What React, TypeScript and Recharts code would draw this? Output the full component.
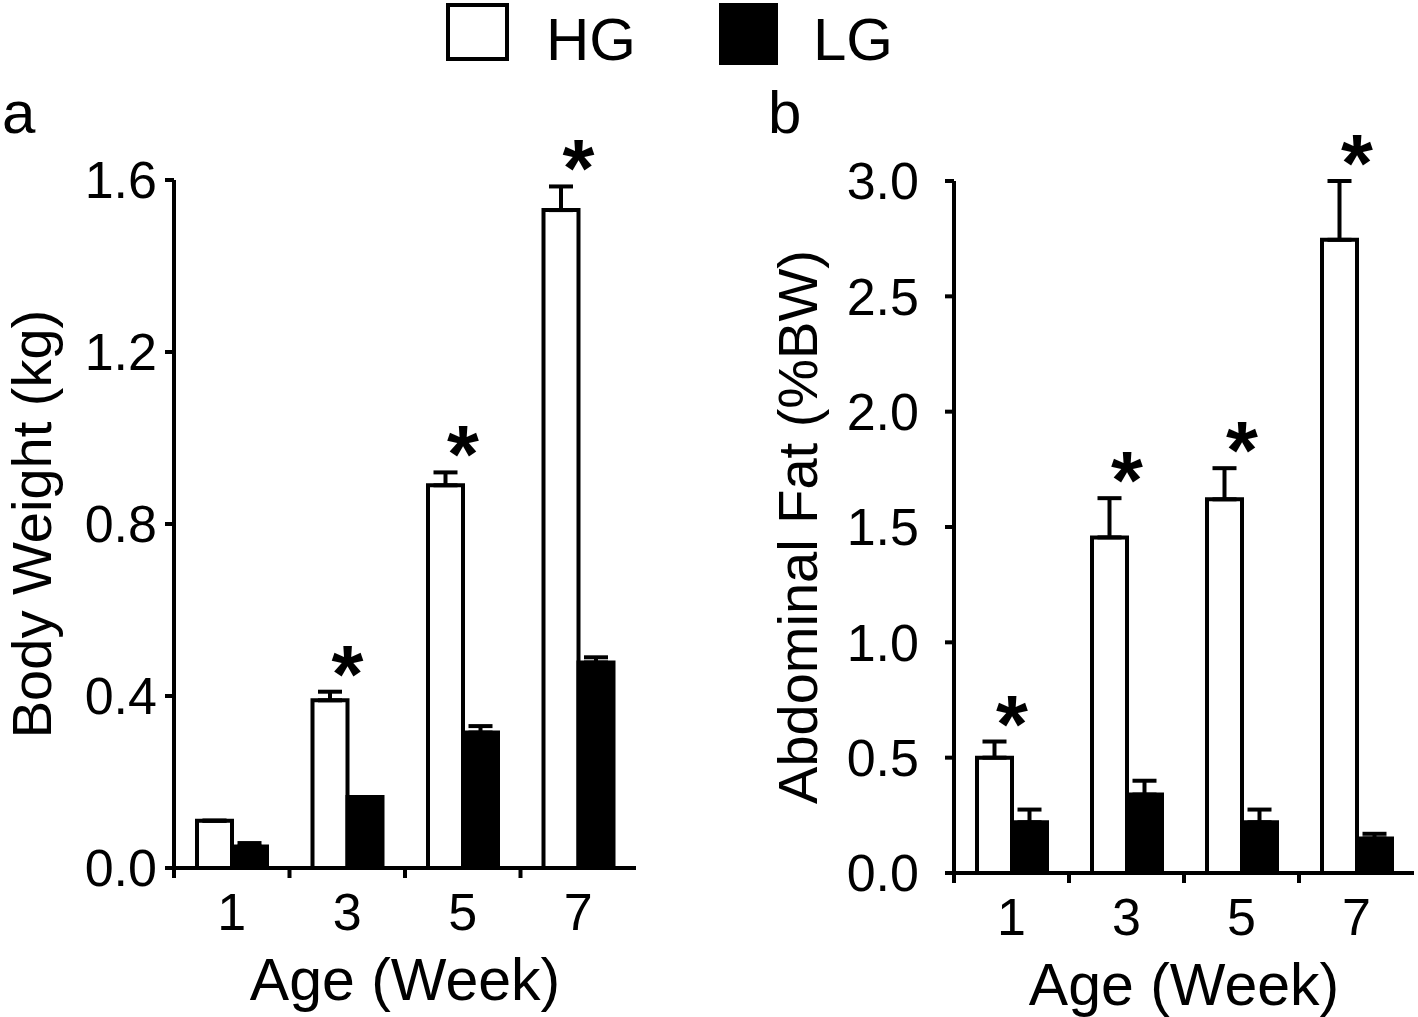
import React from 'react'
import { BarChart, Bar, XAxis, YAxis, ErrorBar, LabelList } from 'recharts'

const FONT = '"Liberation Sans", Arial, sans-serif'

const weeks = ['1', '3', '5', '7']

// panel a: body weight (kg)
const bwHG = [0.11, 0.39, 0.89, 1.53]
const bwHGErr = [0, 0.02, 0.03, 0.055]
const bwLG = [0.05, 0.165, 0.315, 0.478]
const bwLGErr = [0.008, 0, 0.015, 0.012]
const bwSig = [false, true, true, true]
const bwTicks = [0, 0.4, 0.8, 1.2, 1.6]

// panel b: abdominal fat (%BW)
const fatHG = [0.5, 1.455, 1.62, 2.745]
const fatHGErr = [0.07, 0.17, 0.135, 0.255]
const fatLG = [0.22, 0.34, 0.22, 0.15]
const fatLGErr = [0.055, 0.06, 0.055, 0.02]
const fatSig = [true, true, true, true]
const fatTicks = [0, 0.5, 1.0, 1.5, 2.0, 2.5, 3.0]

const makeRows = (hg: number[], hgErr: number[], lg: number[], lgErr: number[], sig: boolean[]) =>
  weeks.map((w, i) => ({
    week: w,
    hg: hg[i],
    hgErr: [0, hgErr[i]],
    lg: lg[i],
    lgErr: [0, lgErr[i]],
    // how far above the bar top the error bar reaches, as a share of the bar height
    star: sig[i] ? hgErr[i] / hg[i] : null,
  }))

const bwRows = makeRows(bwHG, bwHGErr, bwLG, bwLGErr, bwSig)
const fatRows = makeRows(fatHG, fatHGErr, fatLG, fatLGErr, fatSig)

const Star = (props: any) => {
  const { value } = props
  if (value === null || value === undefined || value === '') return null
  const vb = props.viewBox || props
  const top = vb.y - vb.height * Number(value)
  return (
    <text x={vb.x + vb.width} y={top + 10} textAnchor="middle" fontFamily={FONT} fontWeight="bold" fontSize={82} fill="#000">
      *
    </text>
  )
}

const WeekTick = (props: any) => {
  const { x, y, payload } = props
  const half = payload && payload.offset ? payload.offset : 57.5
  const base = y - 18
  return (
    <g>
      <line x1={x - half} x2={x - half} y1={base} y2={base + 10} stroke="#000" strokeWidth={4} />
      <text x={x} y={y + 44} textAnchor="middle" fontFamily={FONT} fontSize={52} fill="#000">
        {payload.value}
      </text>
    </g>
  )
}

const yTitle = (text: string, cx: number) => (p: any) => {
  const vb = p.viewBox || { y: 180, height: 690 }
  const cy = vb.y + vb.height / 2
  return (
    <text x={cx} y={cy} transform={`rotate(-90, ${cx}, ${cy})`} textAnchor="middle" dominantBaseline="central" fontFamily={FONT} fontSize={56} fill="#000">
      {text}
    </text>
  )
}

const xTitle = (p: any) => {
  const vb = p.viewBox || { x: 174, y: 868, width: 460 }
  return (
    <text x={vb.x + vb.width / 2} y={vb.y + 132} textAnchor="middle" fontFamily={FONT} fontSize={59} fill="#000">
      Age (Week)
    </text>
  )
}

interface PanelProps {
  rows: any[]
  ticks: number[]
  domain: [number, number]
  width: number
  margin: { top: number; right: number; bottom: number; left: number }
  tickMargin: number
  title: string
  titleX: number
}

function Panel({ rows, ticks, domain, width, margin, tickMargin, title, titleX }: PanelProps) {
  const axisStyle = { stroke: '#000', strokeWidth: 4 }
  return (
    <BarChart width={width} height={1017} data={rows} margin={margin} barSize={35} barGap={0}>
      <XAxis
        dataKey="week"
        height={100}
        axisLine={axisStyle}
        tickLine={false}
        tickSize={10}
        tickMargin={8}
        interval={0}
        tick={<WeekTick />}
        label={{ value: 'Age (Week)', content: xTitle }}
      />
      <YAxis
        type="number"
        domain={domain}
        ticks={ticks}
        interval={0}
        width={100}
        tickFormatter={(v: number) => v.toFixed(1)}
        tickSize={9}
        tickMargin={tickMargin}
        axisLine={axisStyle}
        tickLine={axisStyle}
        tick={{ fill: '#000', fontSize: 52, fontFamily: FONT }}
        label={{ value: title, content: yTitle(title, titleX) }}
      />
      <Bar dataKey="hg" fill="#fff" stroke="#000" strokeWidth={4} isAnimationActive={false}>
        <ErrorBar dataKey="hgErr" width={12} stroke="#000" strokeWidth={4} direction="y" />
        <LabelList dataKey="star" content={<Star />} />
      </Bar>
      <Bar dataKey="lg" fill="#000" stroke="#000" strokeWidth={4} isAnimationActive={false}>
        <ErrorBar dataKey="lgErr" width={12} stroke="#000" strokeWidth={4} direction="y" />
      </Bar>
    </BarChart>
  )
}

export default function App() {
  return (
    <div style={{ position: 'absolute', left: 0, top: 0, width: 1418, height: 1017, background: '#fff' }}>
      <div style={{ position: 'absolute', left: 0, top: 0 }}>
        <Panel
          rows={bwRows}
          ticks={bwTicks}
          domain={[0, 1.6]}
          width={700}
          margin={{ top: 180, right: 64, bottom: 49, left: 74 }}
          tickMargin={8}
          title="Body Weight (kg)"
          titleX={31}
        />
      </div>
      <div style={{ position: 'absolute', left: 700, top: 0 }}>
        <Panel
          rows={fatRows}
          ticks={fatTicks}
          domain={[0, 3]}
          width={718}
          margin={{ top: 181, right: 4, bottom: 44, left: 154 }}
          tickMargin={26}
          title="Abdominal Fat (%BW)"
          titleX={97}
        />
      </div>
      <svg width={1418} height={1017} style={{ position: 'absolute', left: 0, top: 0, pointerEvents: 'none' }}>
        <rect x={448} y={5} width={59} height={54} fill="#fff" stroke="#000" strokeWidth={4} />
        <text x={546} y={60} fontFamily={FONT} fontSize={60} fill="#000">HG</text>
        <rect x={719} y={3} width={59} height={62} fill="#000" />
        <text x={813} y={60} fontFamily={FONT} fontSize={60} fill="#000">LG</text>
        <text x={2} y={133} fontFamily={FONT} fontSize={60} fill="#000">a</text>
        <text x={768} y={133} fontFamily={FONT} fontSize={60} fill="#000">b</text>
      </svg>
    </div>
  )
}
